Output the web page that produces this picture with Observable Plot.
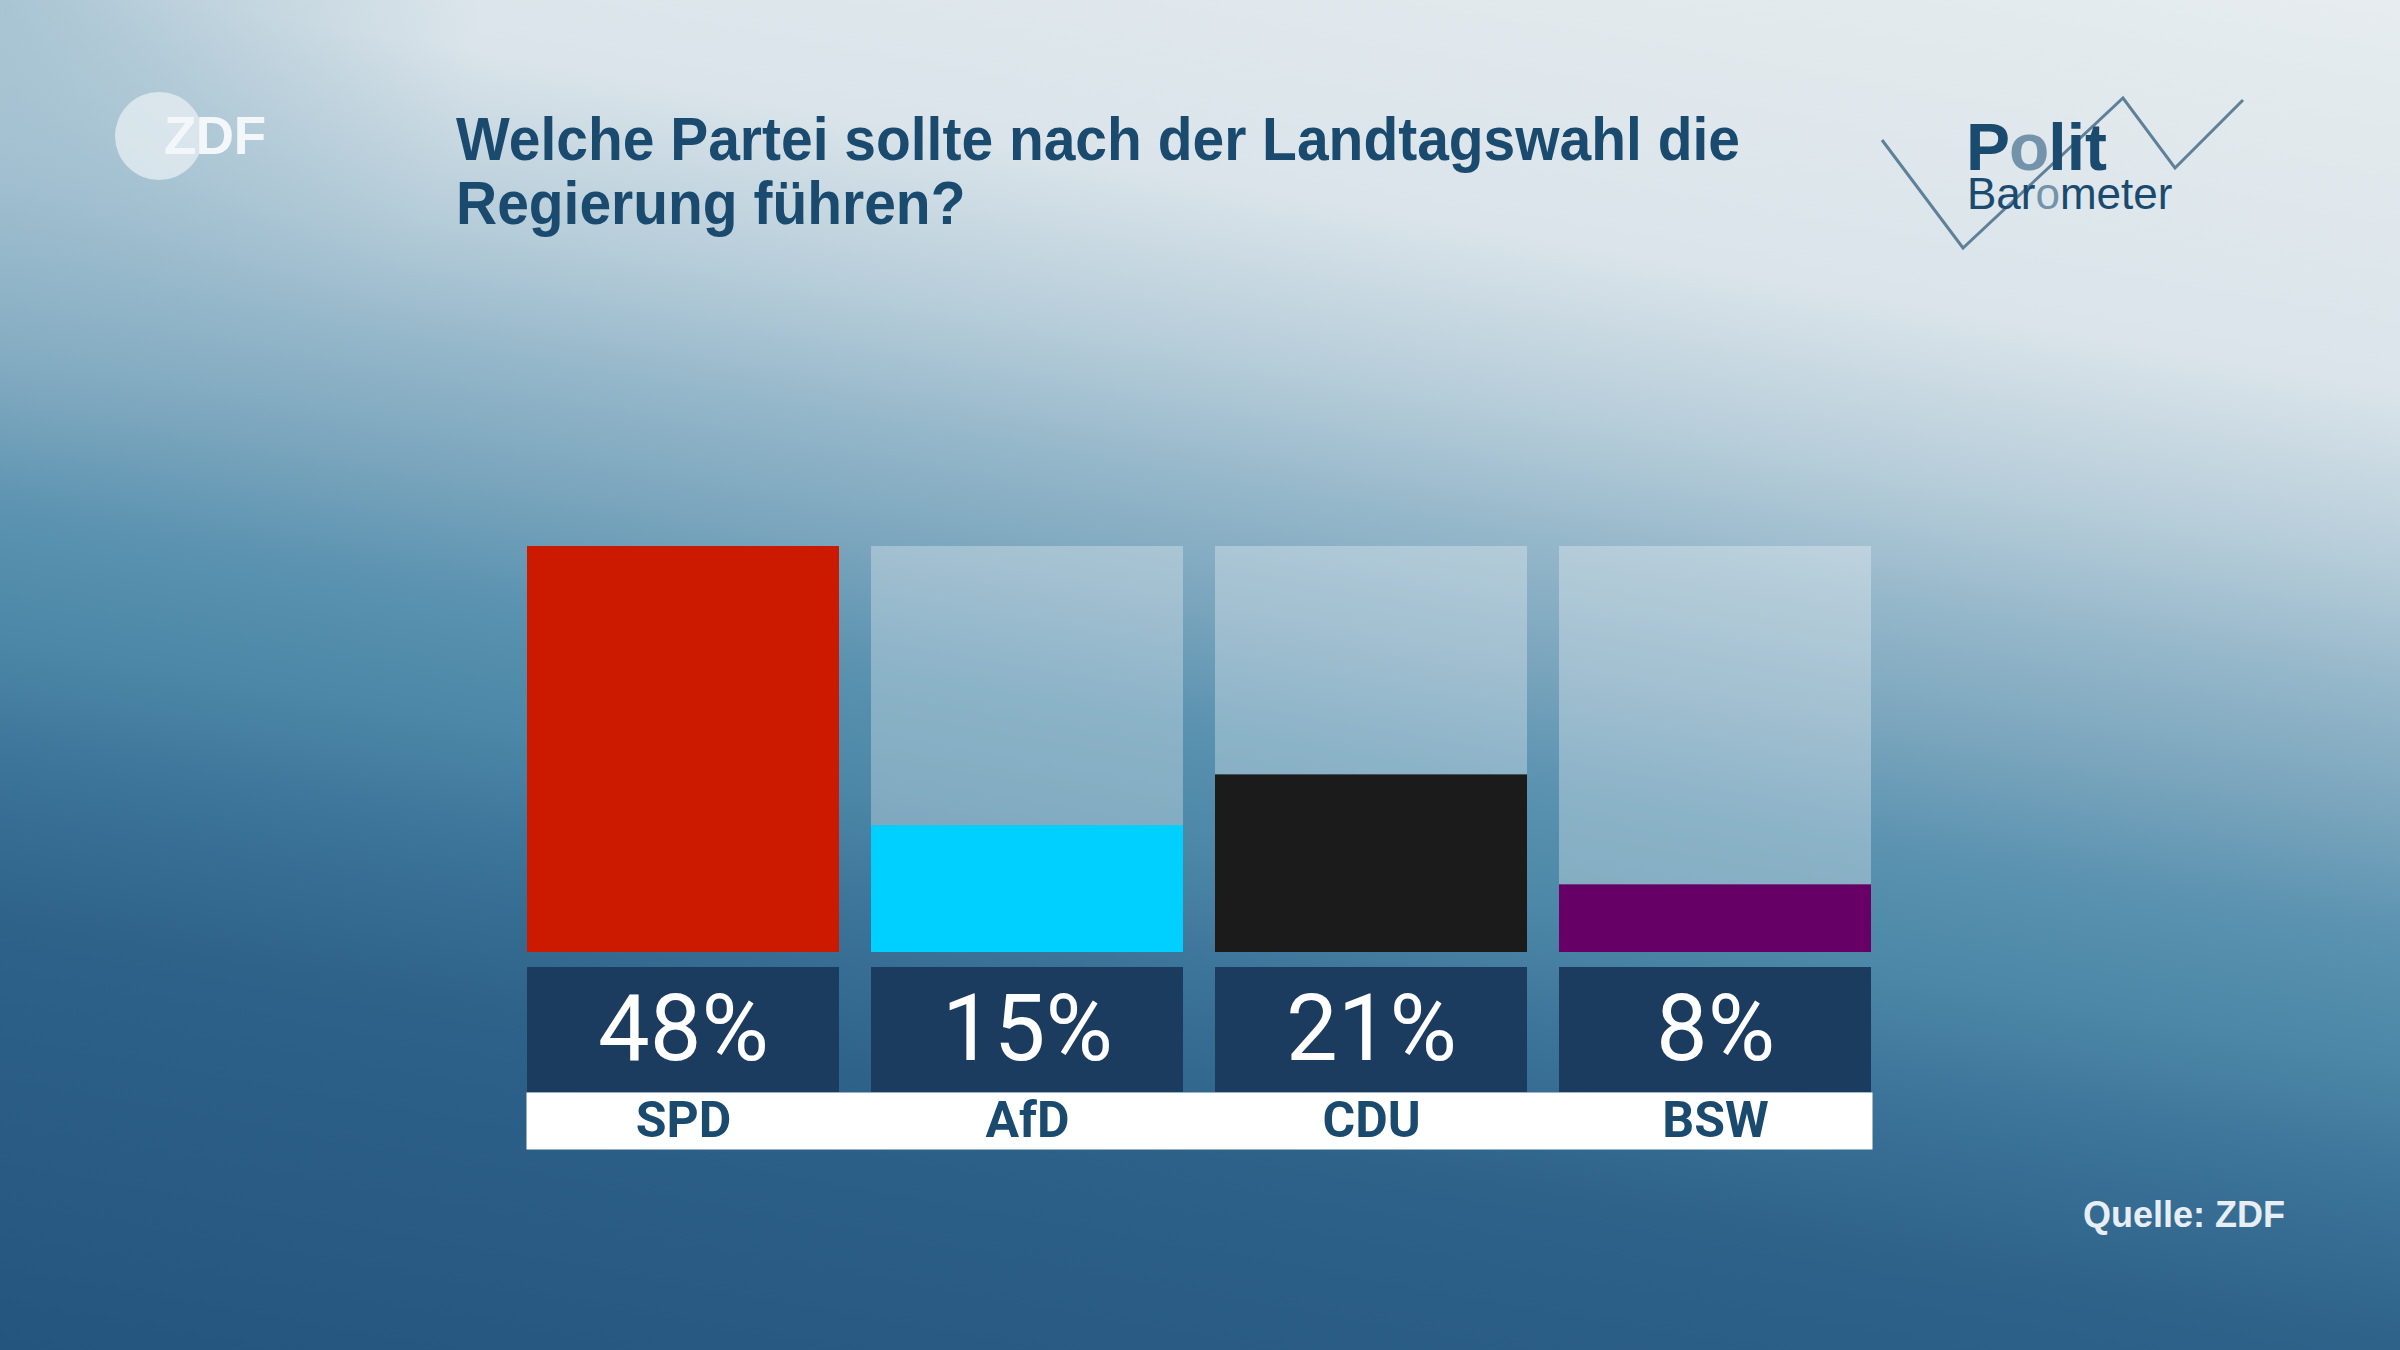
<!DOCTYPE html>
<html>
<head>
<meta charset="utf-8">
<script src="https://cdn.jsdelivr.net/npm/d3@7"></script>
<script src="https://cdn.jsdelivr.net/npm/@observablehq/plot@0.6"></script>
<style>
  html, body { margin: 0; padding: 0; }
  body { width: 2400px; height: 1350px; overflow: hidden; position: relative; }
  #bg {
    position: absolute; left: 0; top: 0; width: 2400px; height: 1350px;
    background:
      radial-gradient(circle 480px at 0px 0px, rgba(140,178,198,0.6) 0%, rgba(140,178,198,0) 100%),
      linear-gradient(190deg, #e6ecef 0%, #dae4ea 22%, #b5ccd9 32%, #95b7ca 39%, #7aa5bd 46%, #5a92b0 53%, #4c87a7 60%, #3c7399 67%, #2e6289 76%, #2c5f88 81%, #24557f 100%);
  }
  .abs { position: absolute; }
  #title {
    left: 456px; top: 107px; margin: 0; white-space: nowrap;
    font-family: "Liberation Sans", Arial, sans-serif;
    font-weight: 700; font-size: 61px; line-height: 64px; color: #1a4a6e;
    transform-origin: 0 0;
  }
  #source {
    right: 115px; top: 1197px;
    font-family: "Liberation Sans", Arial, sans-serif; font-weight: 700;
    font-size: 36px; line-height: 1; color: #e8eef5;
  }
  #zdf { left: 0; top: 0; }
  #polit { left: 0; top: 0; }
</style>
</head>
<body>
<div id="bg"></div>

<svg id="zdf" class="abs" width="400" height="260">
  <circle cx="159" cy="136" r="44" fill="rgba(232,239,243,0.75)"></circle>
  <text x="164" y="154" font-family="Liberation Sans, Arial, sans-serif" font-weight="700" font-size="53" letter-spacing="-0.5" fill="#f4f7f9">ZDF</text>
</svg>

<svg id="polit" class="abs" width="2400" height="300">
  <polyline points="1882,140 1963,248 2123,98 2175,168 2243,100" fill="none" stroke="#5e8099" stroke-width="3"></polyline>
  <g id="politText" font-family="Liberation Sans, Arial, sans-serif"></g>
</svg>

<h1 id="title" class="abs"><span id="t1">Welche Partei sollte nach der Landtagswahl die</span><br>Regierung führen?</h1>

<div id="bars" class="abs" style="left:0; top:546px;"></div>
<div id="vals" class="abs" style="left:0; top:967px;"></div>
<div id="labs" class="abs" style="left:0; top:1092px;"></div>

<div id="source" class="abs">Quelle: ZDF</div>

<script>
// ---- data ----
const parties = ["SPD", "AfD", "CDU", "BSW"];
const values = [48, 15, 21, 8];
const partyColors = ["#cc1a00", "#00d0ff", "#1b1b1b", "#660066"];

const data = parties.map((p, i) => ({party: p, value: values[i], color: partyColors[i]}));
const yMax = d3.max(values);

// condensed title: squeeze the natural bold face to the reference line width
const t1 = document.getElementById("t1");
const natural = t1.getBoundingClientRect().width;
document.getElementById("title").style.transform = `scaleX(${1284 / natural})`;

// Politbarometer word mark, pieces laid side by side
const g = d3.select("#politText");
function word(parts, x, y, size, weight) {
  let cx = x;
  for (const [s, col] of parts) {
    const t = g.append("text").attr("x", cx).attr("y", y).attr("font-size", size)
      .attr("font-weight", weight).attr("fill", col).text(s);
    cx += t.node().getComputedTextLength() - (weight === 700 ? 1 : 0);
  }
}
word([["P", "#1a4a6e"], ["o", "#7393aa"], ["lit", "#1a4a6e"]], 1966, 170, 66, 700);
word([["Bar", "#1a4a6e"], ["o", "#7393aa"], ["meter", "#1a4a6e"]], 1967, 209, 44, 400);

const W = 2400;
const xOpts = {type: "band", domain: parties, paddingInner: 0.093, paddingOuter: 0, axis: null};
const common = {width: W, marginLeft: 526, marginRight: 528, marginTop: 0, marginBottom: 0,
  style: {background: "transparent", overflow: "visible"}};

// bars
const bars = Plot.plot({
  ...common,
  height: 406,
  x: xOpts,
  y: {domain: [0, yMax], axis: null},
  color: {type: "identity"},
  marks: [
    Plot.barY(data, {x: "party", y: () => yMax, fill: "white", fillOpacity: 0.3}),
    Plot.barY(data, {x: "party", y: "value", fill: "color"})
  ]
});
document.getElementById("bars").appendChild(bars);

// value boxes
const vals = Plot.plot({
  ...common,
  height: 125,
  x: xOpts,
  marks: [
    Plot.cell(data, {x: "party", fill: "#1b3b5f"}),
    Plot.text(data, {x: "party", text: d => d.value + "%", frameAnchor: "middle",
      fill: "white", fontSize: 92, fontFamily: "Roboto, sans-serif", fontWeight: 400, dy: 1})
  ]
});
document.getElementById("vals").appendChild(vals);

// party labels
const labs = Plot.plot({
  ...common,
  height: 57,
  x: xOpts,
  marks: [
    Plot.frame({fill: "white", stroke: null}),
    Plot.text(data, {x: "party", text: "party", frameAnchor: "middle",
      fill: "#1a4a6e", fontSize: 50, fontFamily: "Roboto, sans-serif", fontWeight: 700})
  ]
});
document.getElementById("labs").appendChild(labs);
</script>
</body>
</html>
